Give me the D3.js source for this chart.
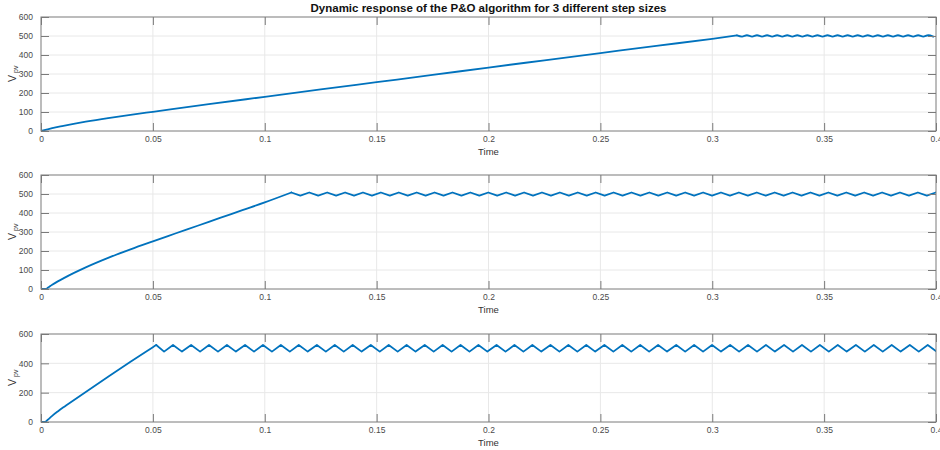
<!DOCTYPE html>
<html>
<head>
<meta charset="utf-8">
<script src="https://cdn.jsdelivr.net/npm/d3@7"></script>
<style>
  body { margin: 0; background: #fff; }
  svg { font-family: "Liberation Sans", Arial, sans-serif; }
</style>
</head>
<body>
<svg id="chart" width="940" height="450"></svg>
<script>
// ---- data ----
var xTicks = [0, 0.05, 0.1, 0.15, 0.2, 0.25, 0.3, 0.35, 0.4];
var xTickLabels = ["0", "0.05", "0.1", "0.15", "0.2", "0.25", "0.3", "0.35", "0.4"];
var yTicksFine = [0, 100, 200, 300, 400, 500, 600];
var yTicksCoarse = [0, 200, 400, 600];

// step size 1 (small): slow ramp, tiny ripple
var ramp1 = [[0,0],[0.002,6],[0.005,15],[0.01,27],[0.02,49],[0.03,68],[0.04,85],[0.05,101],
  [0.075,141],[0.1,180],[0.125,219],[0.15,257],[0.175,295],[0.2,334],[0.225,372],
  [0.25,410],[0.275,448],[0.3,485],[0.311,503]];
var peaks1 = [0.3155,0.3200,0.3245,0.3290,0.3335,0.3380,0.3425,0.3470,0.3515,0.3560,
  0.3605,0.3650,0.3695,0.3740,0.3785,0.3830,0.3875,0.3920,0.3965];
var troughs1 = [0.3133,0.3178,0.3223,0.3268,0.3313,0.3358,0.3403,0.3448,0.3493,0.3538,
  0.3583,0.3628,0.3673,0.3718,0.3763,0.3808,0.3853,0.3898,0.3943,0.3988];
var hi1 = 504, lo1 = 497;

// step size 2 (medium)
var ramp2 = [[0,0],[0.0022,0],[0.003,6],[0.005,22],[0.0075,40],[0.01,56],[0.015,86],
  [0.02,114],[0.03,164],[0.04,209],[0.05,251],[0.06,292],[0.07,333],[0.08,374],
  [0.09,415],[0.1,456],[0.1119,508]];
var peaks2 = [0.1199,0.1279,0.1359,0.1439,0.1519,0.1599,0.1679,0.1759,0.1839,0.1919,
  0.1999,0.2079,0.2159,0.2239,0.2319,0.2399,0.2479,0.2559,0.2639,0.2719,0.2799,0.2879,
  0.2959,0.3039,0.3119,0.3199,0.3279,0.3359,0.3439,0.3519,0.3599,0.3679,0.3759,0.3839,
  0.3919,0.3999];
var troughs2 = [0.1159,0.1239,0.1319,0.1399,0.1479,0.1559,0.1639,0.1719,0.1799,0.1879,
  0.1959,0.2039,0.2119,0.2199,0.2279,0.2359,0.2439,0.2519,0.2599,0.2679,0.2759,0.2839,
  0.2919,0.2999,0.3079,0.3159,0.3239,0.3319,0.3399,0.3479,0.3559,0.3639,0.3719,0.3799,
  0.3879,0.3959];
var hi2 = 508, lo2 = 491;

// step size 3 (large)
var ramp3 = [[0,0],[0.0018,0],[0.003,15],[0.005,42],[0.0075,72],[0.01,100],[0.0115,116],
  [0.02,205],[0.03,308],[0.04,410],[0.05,510],[0.0515,525]];
var peaks3 = [0.0590,0.0671,0.0751,0.0831,0.0912,0.0992,0.1072,0.1152,0.1233,0.1313,
  0.1393,0.1474,0.1554,0.1634,0.1715,0.1795,0.1875,0.1955,0.2036,0.2116,0.2196,0.2277,
  0.2357,0.2437,0.2518,0.2598,0.2678,0.2758,0.2839,0.2919,0.2999,0.3080,0.3160,0.3240,
  0.3321,0.3401,0.3481,0.3561,0.3642,0.3722,0.3802,0.3883,0.3963];
var troughs3 = [0.0550,0.0630,0.0711,0.0791,0.0871,0.0952,0.1032,0.1112,0.1192,0.1273,
  0.1353,0.1433,0.1514,0.1594,0.1674,0.1755,0.1835,0.1915,0.1995,0.2076,0.2156,0.2236,
  0.2317,0.2397,0.2477,0.2558,0.2638,0.2718,0.2798,0.2879,0.2959,0.3039,0.3120,0.3200,
  0.3280,0.3361,0.3441,0.3521,0.3601,0.3682,0.3762,0.3842,0.3923,0.4003];
var hi3 = 525, lo3 = 480;

var titleText = "Dynamic response of the P&O algorithm for 3 different step sizes";

// ---- layout ----
var left = 41, right = 936;
var panels = [
  {top: 17, bottom: 131, yTicks: yTicksFine, ramp: ramp1, peaks: peaks1, troughs: troughs1, hi: hi1, lo: lo1, curve: d3.curveMonotoneX},
  {top: 175, bottom: 289, yTicks: yTicksFine, ramp: ramp2, peaks: peaks2, troughs: troughs2, hi: hi2, lo: lo2, curve: d3.curveLinear},
  {top: 334, bottom: 422, yTicks: yTicksCoarse, ramp: ramp3, peaks: peaks3, troughs: troughs3, hi: hi3, lo: lo3, curve: d3.curveLinear}
];

var svg = d3.select("#chart");
var tickLen = 8;
var axisColor = "#7a7a7a";

svg.append("text")
  .attr("x", (left + right) / 2)
  .attr("y", 12)
  .attr("text-anchor", "middle")
  .style("font-size", "11.5px")
  .style("font-weight", "bold")
  .style("fill", "#111")
  .text(titleText);

panels.forEach(function(p, i) {
  var x = d3.scaleLinear().domain([0, 0.4]).range([left, right]);
  var y = d3.scaleLinear().domain([0, 600]).range([p.bottom, p.top]);
  var g = svg.append("g");

  // grid
  g.selectAll(".vgrid").data(xTicks.slice(1, -1)).enter().append("line")
    .attr("x1", function(d) { return x(d); }).attr("x2", function(d) { return x(d); })
    .attr("y1", p.top).attr("y2", p.bottom)
    .attr("stroke", "#e8e8e8").attr("stroke-width", 1);
  g.selectAll(".hgrid").data(p.yTicks.slice(1, -1)).enter().append("line")
    .attr("y1", function(d) { return y(d); }).attr("y2", function(d) { return y(d); })
    .attr("x1", left).attr("x2", right)
    .attr("stroke", "#e8e8e8").attr("stroke-width", 1);

  // ripple vertices after the ramp
  var ripple = p.peaks.map(function(t) { return [t, p.hi]; })
    .concat(p.troughs.map(function(t) { return [t, p.lo]; }))
    .sort(function(a, b) { return a[0] - b[0]; });
  ripple.unshift(p.ramp[p.ramp.length - 1]);

  var clipId = "clip" + i;
  svg.append("clipPath").attr("id", clipId).append("rect")
    .attr("x", left).attr("y", p.top - 2).attr("width", right - left).attr("height", p.bottom - p.top + 4);

  var rampLine = d3.line()
    .x(function(d) { return x(d[0]); })
    .y(function(d) { return y(d[1]); })
    .curve(d3.curveMonotoneX);
  var rippleLine = d3.line()
    .x(function(d) { return x(d[0]); })
    .y(function(d) { return y(d[1]); })
    .curve(p.curve);

  [[p.ramp, rampLine], [ripple, rippleLine]].forEach(function(s) {
    g.append("path")
      .datum(s[0])
      .attr("clip-path", "url(#" + clipId + ")")
      .attr("d", s[1])
      .attr("fill", "none")
      .attr("stroke", "#0072BD")
      .attr("stroke-width", 1.8)
      .attr("stroke-linejoin", "round")
      .attr("stroke-linecap", "round");
  });

  // box
  g.append("rect")
    .attr("x", left).attr("y", p.top)
    .attr("width", right - left).attr("height", p.bottom - p.top)
    .attr("fill", "none").attr("stroke", axisColor).attr("stroke-width", 1);

  // inward ticks, bottom and top
  var xAxisB = d3.axisBottom(x).tickValues(xTicks).tickSize(-tickLen).tickFormat(function(d, j) { return xTickLabels[j]; }).tickPadding(5);
  var gb = g.append("g").attr("transform", "translate(0," + p.bottom + ")").call(xAxisB);
  var xAxisT = d3.axisTop(x).tickValues(xTicks).tickSize(-tickLen).tickFormat("");
  var gt = g.append("g").attr("transform", "translate(0," + p.top + ")").call(xAxisT);

  var yAxisL = d3.axisLeft(y).tickValues(p.yTicks).tickSize(-tickLen).tickPadding(8);
  var gl = g.append("g").attr("transform", "translate(" + left + ",0)").call(yAxisL);
  var yAxisR = d3.axisRight(y).tickValues(p.yTicks).tickSize(-tickLen).tickFormat("");
  var gr = g.append("g").attr("transform", "translate(" + right + ",0)").call(yAxisR);

  [gb, gt, gl, gr].forEach(function(a) {
    a.select(".domain").remove();
    a.selectAll(".tick line").attr("stroke", axisColor);
    a.selectAll(".tick text")
      .style("font-size", "8.5px")
      .style("font-family", "'Liberation Sans', Arial, sans-serif")
      .attr("fill", "#4a4a4a");
  });

  // x label
  g.append("text")
    .attr("x", (left + right) / 2)
    .attr("y", p.bottom + 24)
    .attr("text-anchor", "middle")
    .style("font-size", "9.5px")
    .style("fill", "#333")
    .text("Time");

  // y label V_pv
  var cy = (p.top + p.bottom) / 2;
  var yl = g.append("text")
    .attr("transform", "translate(16," + (cy + 8) + ") rotate(-90)")
    .attr("text-anchor", "start")
    .style("fill", "#333");
  yl.append("tspan").style("font-size", "10.5px").text("V");
  yl.append("tspan").style("font-size", "7px").attr("dy", 2).attr("dx", 2).text("pv");
});
</script>
</body>
</html>
